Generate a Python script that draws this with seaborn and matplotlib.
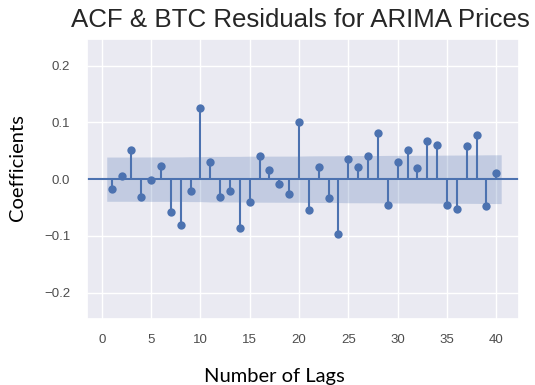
import numpy as np
import pandas as pd
import seaborn as sns
import matplotlib
matplotlib.use("Agg")
import matplotlib.pyplot as plt

lags = list(range(1, 41))
acf_values = [-0.018, 0.005, 0.051, -0.031, -0.002, 0.024, -0.057, -0.080, -0.021, 0.125,
              0.031, -0.031, -0.021, -0.086, -0.040, 0.040, 0.017, -0.008, -0.027, 0.100,
              -0.054, 0.022, -0.033, -0.097, 0.035, 0.022, 0.040, 0.081, -0.045, 0.031,
              0.051, 0.019, 0.068, 0.061, -0.045, -0.052, 0.058, 0.077, -0.047, 0.011]
n_obs = 2530
xticks = [0, 5, 10, 15, 20, 25, 30, 35, 40]
yticks = [-0.2, -0.1, 0.0, 0.1, 0.2]

df = pd.DataFrame({"lag": lags, "acf": acf_values})

# Bartlett confidence band (as statsmodels computes it)
r = np.array(acf_values)
var = np.ones(len(r)) / n_obs
var[1:] *= 1 + 2 * np.cumsum(r[:-1] ** 2)
half = 1.96 * np.sqrt(var)

sns.set_theme(style="darkgrid")
color = sns.color_palette("deep")[0]

fig = plt.figure(figsize=(5.35, 3.85), dpi=100)
ax = fig.add_axes([0.1626, 0.172, 0.8074, 0.7267])

band_x = np.array(lags, dtype=float)
band_x[0] -= 0.5
band_x[-1] += 0.5
ax.fill_between(band_x, -half, half, color=color, alpha=0.25, lw=0)
ax.axhline(0, color=color, lw=1.5, zorder=2)
ax.vlines(df["lag"], 0, df["acf"], color=color, lw=1.5, zorder=3)
sns.scatterplot(data=df, x="lag", y="acf", ax=ax, color=color, s=36,
                edgecolor=color, linewidth=0, zorder=4, legend=False)

ax.set_xlim(-1.5, 42.3)
ax.set_ylim(-0.246, 0.247)
ax.set_xticks(xticks)
ax.set_yticks(yticks)
ax.set_yticklabels([f"{v:.1f}".replace("-", "\u2212") for v in yticks])
ax.tick_params(axis="x", labelsize=9.5, labelcolor="0.3", pad=5)
ax.tick_params(axis="y", labelsize=9.5, labelcolor="0.3", pad=6)
for lab in ax.get_xticklabels() + ax.get_yticklabels():
    lab.set_family(["Liberation Sans", "DejaVu Sans"])

ax.set_title("ACF & BTC Residuals for ARIMA Prices", fontsize=18.6,
             family=["Liberation Sans", "DejaVu Sans"], color="0.15", pad=9,
             x=0.495)
ax.set_xlabel("Number of Lags", fontsize=14.5, family=["Lato", "DejaVu Sans"],
              color="black", labelpad=12)
ax.xaxis.set_label_coords(0.434, -0.175)
ax.set_ylabel("Coefficients", fontsize=14.5, family=["Lato", "DejaVu Sans"],
              color="black")
ax.yaxis.set_label_coords(-0.141, 0.54)

fig.savefig("out.png", dpi=100)
